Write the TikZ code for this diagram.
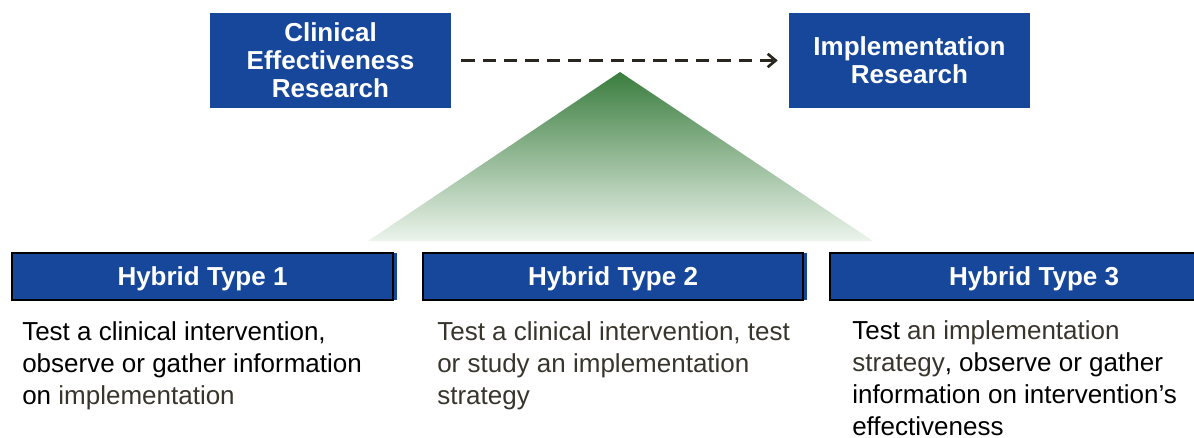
\documentclass[tikz,border=0pt]{standalone}
\usepackage{fontspec}
\setmainfont{Liberation Sans}
\usetikzlibrary{arrows.meta}
\definecolor{boxblue}{RGB}{23,71,155}
\definecolor{darktxt}{RGB}{55,53,44}
\definecolor{arrowc}{RGB}{40,38,30}
\definecolor{gtop}{RGB}{58,125,62}
\definecolor{gbot}{RGB}{236,244,236}
\begin{document}
\begin{tikzpicture}[x=0.75pt,y=-0.75pt,
  topbox/.style={fill=boxblue,text=white,font=\bfseries\fontsize{19.5}{21}\selectfont,
    align=center,minimum width=241*0.75pt,minimum height=95*0.75pt,inner sep=0pt},
  hybox/.style={fill=boxblue,draw=black,line width=1.2pt,text=white,text depth=0pt,
    font=\bfseries\fontsize{19.5}{21}\selectfont,minimum height=47*0.75pt,inner sep=0pt},
  bodytxt/.style={anchor=north west,inner sep=0pt,align=left,
    font=\fontsize{19.5}{24}\selectfont,text=black},
  dk/.style={text=darktxt}]
\useasboundingbox (0,0) rectangle (1194,438);
\clip (0,0) rectangle (1194,438);
% triangle
\shade[top color=gtop,bottom color=gbot] (620,72) -- (873,241) -- (368,241) -- cycle;
% top boxes
\node[topbox] (cer) at (330.5,60.5) {Clinical\\Effectiveness\\Research};
\node[topbox] (impl) at (909.5,60.5) {Implementation\\Research};
\draw[arrowc,line width=2pt,dash pattern=on 10pt off 6pt,-{Straight Barb[length=6pt,width=10pt]}]
  ([xshift=10*0.75pt]cer.east) -- ([xshift=-11*0.75pt]impl.west);
% hybrid boxes with blue shadow
\fill[boxblue] (15,253) rectangle (397,300);
\node[hybox,minimum width=381*0.75pt] (h1) at (202.5,276.5) {Hybrid Type 1};
\fill[boxblue] (426,253) rectangle (807,300);
\node[hybox,minimum width=380*0.75pt] (h2) at (613,276.5) {Hybrid Type 2};
\node[hybox,minimum width=408*0.75pt] (h3) at (1034,276.5) {Hybrid Type 3};
% body texts
\node[bodytxt] (t1) at (22,321) {Test a clinical intervention,\\observe or gather information\\on {\color{darktxt}implementation}};
\node[bodytxt,text=darktxt] (t2) at (437,321) {Test a clinical intervention, test\\or study an implementation\\strategy};
\node[bodytxt] (t3) at (852,320) {Test {\color{darktxt}an implementation}\\{\color{darktxt}strategy}, observe or gather\\information on intervention’s\\effectiveness};
\end{tikzpicture}
\end{document}
